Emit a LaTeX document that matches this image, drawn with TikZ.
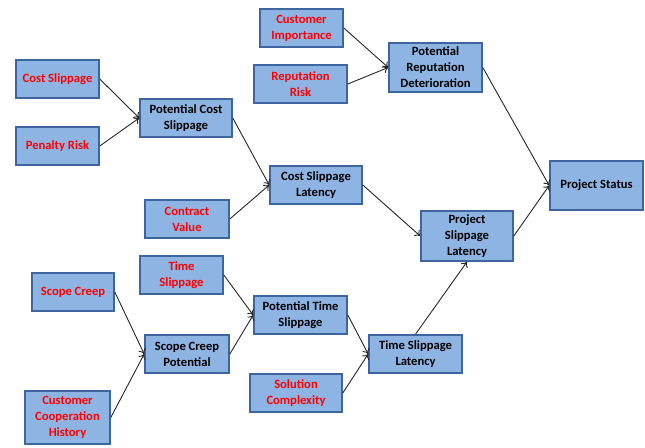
\documentclass[tikz,border=0pt]{standalone}
\usepackage{fontspec}
\setmainfont{Carlito}
\usetikzlibrary{arrows.meta}
\definecolor{boxfill}{RGB}{142,180,227}
\definecolor{boxline}{RGB}{62,102,158}
\definecolor{leafred}{RGB}{255,0,0}
\tikzset{
  box/.style={draw=boxline, fill=boxfill, line width=1.6pt, inner sep=0pt, align=center,
    font=\fontsize{12.6}{16}\selectfont\bfseries, text=black},
  leaf/.style={box, text=leafred},
  conn/.style={draw=black!85, line width=0.9pt, -{To[length=5pt,width=8pt]}}
}
\begin{document}
\begin{tikzpicture}[x=1pt,y=-1pt]
\useasboundingbox (0,0) rectangle (645,447);
\node[leaf, minimum width=83, minimum height=38] (cs) at (57.5,79) {Cost Slippage};
\node[leaf, minimum width=83, minimum height=38] (pr) at (57.5,146) {Penalty Risk};
\node[box, minimum width=92, minimum height=38] (pcs) at (186,118) {Potential Cost\\Slippage};
\node[box, minimum width=92, minimum height=38] (csl) at (316,185) {Cost Slippage\\Latency};
\node[leaf, minimum width=84, minimum height=38] (cv) at (187,219) {Contract\\Value};
\node[leaf, minimum width=83, minimum height=38] (ci) at (301.5,28) {Customer\\Importance};
\node[leaf, minimum width=93, minimum height=38] (rr) at (300.5,84) {Reputation\\Risk};
\node[box, minimum width=93, minimum height=49] (prd) at (435.5,67.5) {Potential\\Reputation\\Deterioration};
\node[box, minimum width=93, minimum height=49] (ps) at (596.5,185.5) {Project Status};
\node[box, minimum width=92, minimum height=50] (psl) at (467,236) {Project\\Slippage\\Latency};
\node[box, minimum width=93, minimum height=38] (tsl) at (415.5,354) {Time Slippage\\Latency};
\node[leaf, minimum width=83, minimum height=38] (ts) at (181.5,275) {Time\\Slippage};
\node[leaf, minimum width=82, minimum height=38] (sc) at (73,292) {Scope Creep};
\node[box, minimum width=93, minimum height=38] (pts) at (300.5,315) {Potential Time\\Slippage};
\node[box, minimum width=84, minimum height=38] (scp) at (187,354) {Scope Creep\\Potential};
\node[leaf, minimum width=92, minimum height=38] (solc) at (296,393) {Solution\\Complexity};
\node[leaf, minimum width=85, minimum height=53] (cch) at (67.5,417.5) {Customer\\Cooperation\\History};
\draw[conn] (cs.east) -- (pcs.west);
\draw[conn] (pr.east) -- (pcs.west);
\draw[conn] (pcs.east) -- (csl.west);
\draw[conn] (cv.east) -- (csl.west);
\draw[conn] (ci.east) -- (prd.west);
\draw[conn] (rr.east) -- (prd.west);
\draw[conn] (prd.east) -- (ps.west);
\draw[conn] (csl.east) -- (psl.west);
\draw[conn] (psl.east) -- (ps.west);
\draw[conn] (ts.east) -- (pts.west);
\draw[conn] (sc.east) -- (scp.west);
\draw[conn] (cch.east) -- (scp.west);
\draw[conn] (scp.east) -- (pts.west);
\draw[conn] (pts.east) -- (tsl.west);
\draw[conn] (solc.east) -- (tsl.west);
\draw[conn] (tsl.north) -- (psl.south);
\end{tikzpicture}
\end{document}
